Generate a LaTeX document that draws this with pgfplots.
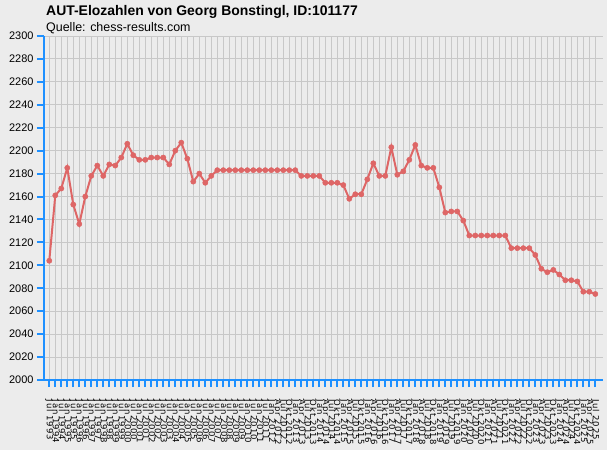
\documentclass[border=0pt]{standalone}
\usepackage{pgfplots}
\pgfplotsset{compat=1.18}
\usetikzlibrary{backgrounds,calc}
\usepackage{fontspec}
\setmainfont{Liberation Sans}
\newfontfamily\labfont[LetterSpace=12]{DejaVu Sans}
\definecolor{bg}{RGB}{236,236,236}
\definecolor{gridc}{RGB}{200,200,200}
\definecolor{axblue}{RGB}{30,144,255}
\definecolor{linec}{RGB}{222,102,102}
\begin{document}
\begin{tikzpicture}
\begin{axis}[
  name=ax, scale only axis,
  width=559bp, height=344bp,
  xmin=-0.88, xmax=92.28, ymin=2000, ymax=2300,
  ytick={2000,2020,...,2300},
  xtick={0,...,91},
  xticklabels={Jul 1993,Jan 1994,Jul 1994,Jan 1995,Jul 1995,Jan 1996,Jul 1996,Jan 1997,Jul 1997,Jan 1998,Jul 1998,Jan 1999,Jul 1999,Jan 2000,Jul 2000,Jan 2001,Jul 2001,Jan 2002,Jul 2002,Jan 2003,Jul 2003,Jan 2004,Jul 2004,Jan 2005,Jul 2005,Jan 2006,Jul 2006,Jan 2007,Jul 2007,Jan 2008,Jul 2008,Jan 2009,Jul 2009,Jan 2010,Jul 2010,Jan 2011,Jul 2011,
  Jan 2012,Apr 2012,Jul 2012,Okt 2012,Jan 2013,Apr 2013,Jul 2013,Okt 2013,Jan 2014,Apr 2014,Jul 2014,Okt 2014,Jan 2015,Apr 2015,Jul 2015,Okt 2015,Jan 2016,Apr 2016,Jul 2016,Okt 2016,Jan 2017,Apr 2017,Jul 2017,Okt 2017,Jan 2018,Apr 2018,Jul 2018,Okt 2018,Jan 2019,Apr 2019,Jul 2019,Okt 2019,Jan 2020,Apr 2020,Jul 2020,Okt 2020,Jan 2021,Apr 2021,Jul 2021,Okt 2021,Jan 2022,Apr 2022,Jul 2022,Okt 2022,Jan 2023,Apr 2023,Jul 2023,Okt 2023,Jan 2024,Apr 2024,Jul 2024,Okt 2024,Jan 2025,Apr 2025,Jul 2025},
  axis x line=bottom, axis y line=left,
  axis line style={axblue, line width=2bp, -},
  grid=major, major grid style={gridc, line width=1bp},
  tick align=outside, major tick length=7bp,
  tick style={axblue, line width=2bp},
  /pgf/number format/assume math mode=true,
  /pgf/number format/1000 sep={},
  yticklabel style={font=\fontsize{11}{12}\selectfont, text=black},
  xticklabel shift=9bp,
  xticklabel style={rotate=-90, anchor=west, font=\labfont\fontsize{8.5}{9}\selectfont, text=black},
]
\addplot[linec, line width=2bp, mark=*, mark size=2.6bp, mark options={fill=linec, draw=linec, line width=0.5bp}] coordinates {
(0,2104)(1,2161)(2,2167)(3,2185)(4,2153)(5,2136)(6,2160)(7,2178)(8,2187)(9,2178)
(10,2188)(11,2187)(12,2194)(13,2206)(14,2196)(15,2192)(16,2192)(17,2194)(18,2194)(19,2194)
(20,2188)(21,2200)(22,2207)(23,2193)(24,2173)(25,2180)(26,2172)(27,2178)(28,2183)(29,2183)
(30,2183)(31,2183)(32,2183)(33,2183)(34,2183)(35,2183)(36,2183)(37,2183)(38,2183)(39,2183)
(40,2183)(41,2183)(42,2178)(43,2178)(44,2178)(45,2178)(46,2172)(47,2172)(48,2172)(49,2170)
(50,2158)(51,2162)(52,2162)(53,2175)(54,2189)(55,2178)(56,2178)(57,2203)(58,2179)(59,2182)
(60,2192)(61,2205)(62,2187)(63,2185)(64,2185)(65,2168)(66,2146)(67,2147)(68,2147)(69,2139)
(70,2126)(71,2126)(72,2126)(73,2126)(74,2126)(75,2126)(76,2126)(77,2115)(78,2115)(79,2115)
(80,2115)(81,2109)(82,2097)(83,2094)(84,2096)(85,2092)(86,2087)(87,2087)(88,2086)(89,2077)
(90,2077)(91,2075)
};
\end{axis}
\coordinate (O) at ($(ax.south west)+(-44bp,-70bp)$);
\begin{pgfonlayer}{background}
\fill[bg] (O) rectangle ++(607bp,450bp);
\end{pgfonlayer}
\node[anchor=base west, font=\bfseries\fontsize{14}{16}\selectfont, inner sep=0] at ($(O)+(46bp,434bp)$) {AUT-Elozahlen von Georg Bonstingl, ID:101177};
\node[anchor=base west, font=\fontsize{12.5}{14}\selectfont, inner sep=0] at ($(O)+(46bp,418bp)$) {Quelle: chess-results.com};
\pgfresetboundingbox
\useasboundingbox (O) rectangle ++(607bp,450bp);
\end{tikzpicture}
\end{document}
